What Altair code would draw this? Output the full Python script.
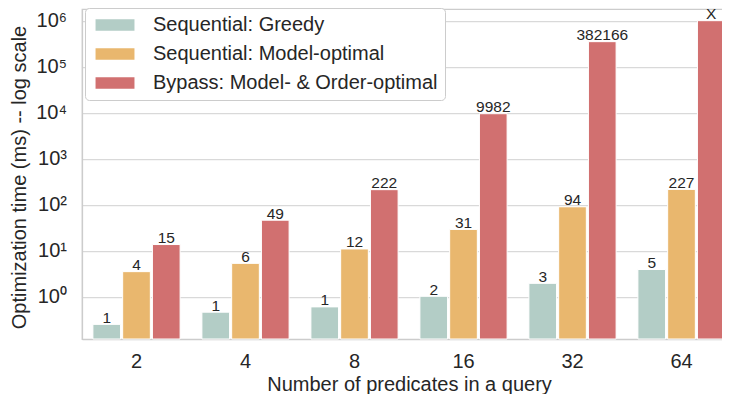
import altair as alt
import pandas as pd

FONT = "Liberation Sans"
TEXT = "#262626"

categories = ["2", "4", "8", "16", "32", "64"]
series = ["Sequential: Greedy", "Sequential: Model-optimal", "Bypass: Model- & Order-optimal"]
greedy = [0.25, 0.46, 0.6, 1.02, 1.95, 3.9]
model = [3.5, 5.3, 10.9, 29.0, 90.0, 215.0]
bypass = [13.6, 46.0, 212.0, 9500.0, 350000.0, 1000000.0]
greedy_labels = ["1", "1", "1", "2", "3", "5"]
model_labels = ["4", "6", "12", "31", "94", "227"]
bypass_labels = ["15", "49", "222", "9982", "382166", "X"]
colors = ["#b3cdc6", "#e9b76e", "#d17070"]
y_domain = [0.1202, 1.795e6]
tick_values = [1, 10, 100, 1000, 10000, 100000, 1000000]
tick_labels = ["10\u2070", "10\u00b9", "10\u00b2", "10\u00b3",
               "10\u2074", "10\u2075", "10\u2076"]

rows = []
for vals, labs, s in [(greedy, greedy_labels, series[0]),
                      (model, model_labels, series[1]),
                      (bypass, bypass_labels, series[2])]:
    for c, v, l in zip(categories, vals, labs):
        rows.append({"n": c, "series": s, "value": v, "label": l})
df = pd.DataFrame(rows)

expr = ""
for v, l in zip(tick_values, tick_labels):
    expr += f"datum.value == {v} ? '{l}' : "
expr += "''"

x = alt.X("n:N", sort=categories,
          scale=alt.Scale(paddingInner=0.2, paddingOuter=0.1),
          axis=alt.Axis(title="Number of predicates in a query", labelAngle=0,
                        ticks=False, labelPadding=12, grid=False,
                        titleY=51, titleBaseline="alphabetic"))
xoff = alt.XOffset("series:N", sort=series,
                   scale=alt.Scale(paddingInner=0.07, paddingOuter=0))
y = alt.Y("value:Q",
          scale=alt.Scale(type="log", domain=y_domain, nice=False, zero=False),
          axis=alt.Axis(values=tick_values, labelExpr=expr,
                        title="Optimization time (ms) -- log scale",
                        ticks=False, labelPadding=15.5, grid=True,
                        titleX=-57, titleY=168, titleBaseline="alphabetic"))
color = alt.Color("series:N", sort=series,
                  scale=alt.Scale(domain=series, range=colors),
                  legend=alt.Legend(title=None, orient="none", legendX=3, legendY=-1,
                                    labelFontSize=20, labelFont=FONT, labelColor=TEXT,
                                    labelLimit=500, labelOffset=41,
                                    symbolType="M-0.76,-0.69H3.82V0.69H-0.76Z",
                                    symbolSize=289, symbolStrokeWidth=0, symbolOpacity=1,
                                    rowPadding=9, padding=7, fillColor="white",
                                    strokeColor="#cccccc", cornerRadius=4))

bars = alt.Chart(df).mark_bar(stroke="white", strokeWidth=1, opacity=1).encode(
    x=x, xOffset=xoff, y=y, y2=alt.datum(y_domain[0]), color=color)
labels = alt.Chart(df).mark_text(fontSize=15.5, font=FONT, baseline="alphabetic",
                                 dy=-1.5, color=TEXT).encode(
    x=x, xOffset=xoff, y=y, text="label:N")

chart = alt.layer(bars, labels).properties(
    width=654, height=330,
    padding={"left": 74, "top": 1, "right": -14, "bottom": 55},
    autosize=alt.AutoSizeParams(type="none"),
).configure_axis(
    labelFont=FONT, labelFontSize=20, labelColor=TEXT,
    titleFont=FONT, titleFontSize=20, titleColor=TEXT, titleFontWeight="normal",
    domainColor="#cccccc", domainWidth=1.25,
    gridColor="#d9d9d9", gridWidth=1.25,
).configure_view(stroke="#cccccc", strokeWidth=1.25)

chart.save("out.html", embed_options={"renderer": "svg", "actions": False})
